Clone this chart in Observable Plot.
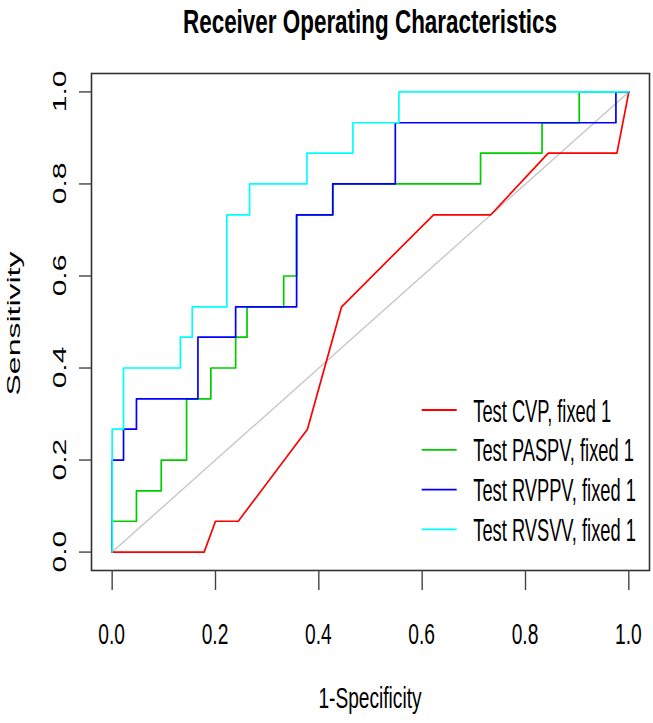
<!DOCTYPE html>
<html>
<head>
<meta charset="utf-8">
<script src="https://cdn.jsdelivr.net/npm/d3@7"></script>
<script src="https://cdn.jsdelivr.net/npm/@observablehq/plot@0.6"></script>
<style>
  html, body { margin: 0; padding: 0; background: #fff; }
  #chart svg { display: block; }
</style>
</head>
<body>
<div id="chart"></div>
<script>
// ---- data ----
const titleText = "Receiver Operating Characteristics";
const xLabel = "1-Specificity";
const yLabel = "Sensitivity";
const tickVals = [0, 0.2, 0.4, 0.6, 0.8, 1.0];
const tickLabels = ["0.0", "0.2", "0.4", "0.6", "0.8", "1.0"];

const seriesNames = ["Test CVP, fixed 1", "Test PASPV, fixed 1", "Test RVPPV, fixed 1", "Test RVSVV, fixed 1"];
const seriesColors = ["#ff0000", "#00cd00", "#0000ff", "#00ffff"];

// CVP (points joined by straight segments)
const cvpX = [0, 0.178, 0.2, 0.244, 0.378, 0.444, 0.622, 0.733, 0.844, 0.977, 1];
const cvpY = [0, 0, 0.067, 0.067, 0.267, 0.533, 0.733, 0.733, 0.867, 0.867, 1];
// PASPV (ROC points, step curve)
const paspvX = [0, 0, 0.047, 0.095, 0.144, 0.191, 0.239, 0.261, 0.332, 0.357, 0.427, 0.713, 0.832, 0.904, 1];
const paspvY = [0, 0.067, 0.133, 0.2, 0.333, 0.4, 0.467, 0.533, 0.6, 0.733, 0.8, 0.867, 0.933, 1, 1];
// RVPPV
const rvppvX = [0, 0, 0.022, 0.047, 0.166, 0.239, 0.357, 0.427, 0.548, 0.975, 1];
const rvppvY = [0, 0.2, 0.267, 0.333, 0.467, 0.533, 0.733, 0.8, 0.933, 1, 1];
// RVSVV
const rvsvvX = [0, 0, 0.022, 0.132, 0.155, 0.222, 0.266, 0.377, 0.466, 0.555, 1];
const rvsvvY = [0, 0.267, 0.4, 0.467, 0.533, 0.733, 0.8, 0.867, 0.933, 1, 1];
// chance diagonal
const diagX = [0, 1];
const diagY = [0, 1];

const toRows = (xs, ys) => xs.map((x, i) => ({x, y: ys[i]}));

const FONT = "'Liberation Sans', Arial, Helvetica, sans-serif";

const chart = Plot.plot({
  width: 653,
  height: 723,
  marginLeft: 91,
  marginRight: 4,
  marginTop: 73,
  marginBottom: 153,
  style: {fontFamily: FONT, background: "#fff", color: "#000"},
  x: {domain: [-0.04, 1.04]},
  y: {domain: [-0.04, 1.04]},
  marks: [
    Plot.line(toRows(diagX, diagY), {x: "x", y: "y", stroke: "#c4c4c4", strokeWidth: 1.3}),
    Plot.line(toRows(cvpX, cvpY), {x: "x", y: "y", stroke: seriesColors[0], strokeWidth: 1.7}),
    Plot.line(toRows(paspvX, paspvY), {x: "x", y: "y", curve: "step-after", stroke: seriesColors[1], strokeWidth: 1.7}),
    Plot.line(toRows(rvppvX, rvppvY), {x: "x", y: "y", curve: "step-after", stroke: seriesColors[2], strokeWidth: 1.7}),
    Plot.line(toRows(rvsvvX, rvsvvY), {x: "x", y: "y", curve: "step-after", stroke: seriesColors[3], strokeWidth: 1.7}),
    Plot.frame({stroke: "#333", strokeWidth: 1.6}),
    Plot.axisX({ticks: tickVals, tickFormat: d => tickLabels[tickVals.indexOf(d)], tickSize: 20, fontSize: 30, label: null, stroke: "#444", strokeWidth: 1.4}),
    Plot.axisY({ticks: tickVals, tickFormat: d => tickLabels[tickVals.indexOf(d)], tickSize: 12, fontSize: 30, label: null, stroke: "#444", strokeWidth: 1.4})
  ]
});

document.getElementById("chart").appendChild(chart);

// ---- restyle texts to mimic the horizontally squeezed reference ----
const svg = d3.select(chart);
const sx = chart.scale("x"), sy = chart.scale("y");

function place(textSel, tx, ty, scaleX, rotate, size, anchor) {
  textSel.attr("x", null).attr("y", null).attr("dx", null).attr("dy", null)
    .attr("text-anchor", anchor)
    .style("font-size", size + "px")
    .attr("fill", "#000")
    .attr("transform", `translate(${tx},${ty}) scale(${scaleX},1)` + (rotate ? ` rotate(${rotate})` : ""));
  textSel.selectAll("tspan").attr("x", null).attr("y", null).attr("dy", null).attr("dx", null);
}

svg.selectAll('g[aria-label="x-axis tick label"]').attr("transform", null)
  .selectAll("text").each(function () {
    const v = +this.textContent;
    place(d3.select(this), sx.apply(v), 643.5, 0.64, 0, 30, "middle");
  });

svg.selectAll('g[aria-label="y-axis tick label"]').attr("transform", null)
  .selectAll("text").each(function () {
    const v = +this.textContent;
    place(d3.select(this), 66, sy.apply(v), 0.64, -90, 30, "middle");
  });

// title
const t = svg.append("text").text(titleText).attr("font-weight", "bold").attr("font-family", FONT);
place(t, 370, 33, 0.66, 0, 34, "middle");

// x label
const xl = svg.append("text").text(xLabel).attr("font-family", FONT);
place(xl, 370, 708, 0.66, 0, 29, "middle");

// y label
const yl = svg.append("text").text(yLabel).attr("font-family", FONT);
place(yl, 19.5, 323.5, 0.55, -90, 32, "middle");

// legend (no box)
const legend = svg.append("g").attr("aria-label", "legend");
seriesNames.forEach((name, i) => {
  const yy = 410 + i * 39.8;
  legend.append("line").attr("x1", 421.7).attr("x2", 456.7).attr("y1", yy).attr("y2", yy)
    .attr("stroke", seriesColors[i]).attr("stroke-width", 1.8);
  const lt = legend.append("text").text(name).attr("font-family", FONT);
  place(lt, 473.3, yy + 11.5, 0.59, 0, 31, "start");
});
</script>
</body>
</html>
